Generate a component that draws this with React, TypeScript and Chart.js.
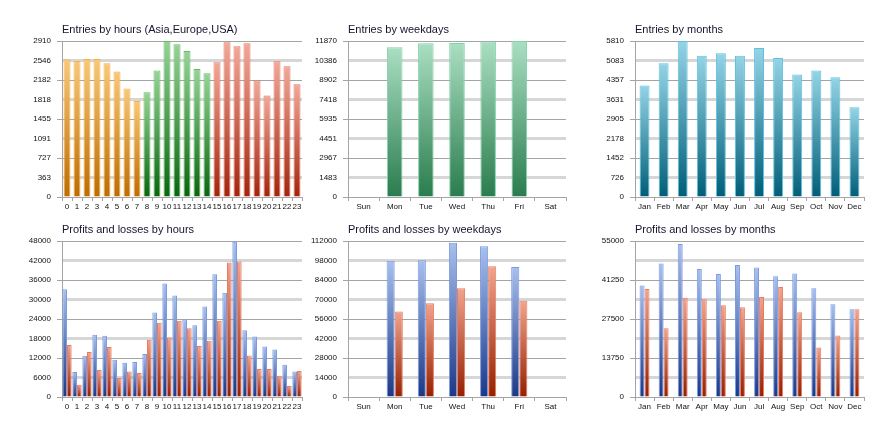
import React, { useEffect, useRef } from 'react';
import { Chart, registerables } from 'chart.js';

Chart.register(...registerables);

// ---- categories ----
const hourLabels = ['0', '1', '2', '3', '4', '5', '6', '7', '8', '9', '10', '11', '12', '13', '14', '15', '16', '17', '18', '19', '20', '21', '22', '23'];
const hourRegions = ['Asia', 'Asia', 'Asia', 'Asia', 'Asia', 'Asia', 'Asia', 'Asia', 'Europe', 'Europe', 'Europe', 'Europe', 'Europe', 'Europe', 'Europe', 'USA', 'USA', 'USA', 'USA', 'USA', 'USA', 'USA', 'USA', 'USA'];
const weekdayLabels = ['Sun', 'Mon', 'Tue', 'Wed', 'Thu', 'Fri', 'Sat'];
const monthLabels = ['Jan', 'Feb', 'Mar', 'Apr', 'May', 'Jun', 'Jul', 'Aug', 'Sep', 'Oct', 'Nov', 'Dec'];

// ---- entries ----
const hourEntries = [2569, 2538, 2575, 2575, 2494, 2339, 2023, 1793, 1955, 2358, 2910, 2848, 2724, 2389, 2308, 2513, 2885, 2811, 2867, 2172, 1893, 2532, 2439, 2103];
const weekdayEntries = [null, 11390, 11693, 11719, 11830, 11870, null];
const monthEntries = [4150, 4980, 5810, 5265, 5352, 5265, 5550, 5178, 4559, 4707, 4460, 3345];

// ---- profits and losses ----
const hourProfits = [33160, 7680, 12690, 19140, 18830, 11460, 10540, 10750, 13200, 26000, 34900, 31220, 23850, 22110, 27840, 37770, 32040, 47800, 20570, 18630, 15560, 14640, 9930, 7880];
const hourLosses = [15970, 3790, 13820, 8290, 15350, 5830, 7880, 7370, 17600, 22820, 18320, 23440, 21190, 15660, 17300, 23440, 41350, 41660, 12790, 8600, 8600, 6550, 3380, 7980];
const weekdayProfits = [null, 97910, 98150, 110810, 108180, 93370, null];
const weekdayLosses = [null, 61380, 67340, 78090, 93850, 69020, null];
const monthProfits = [39290, 47030, 53950, 45150, 43390, 46560, 45620, 42570, 43510, 38350, 32720, 30960];
const monthLosses = [38110, 24280, 34950, 34480, 32370, 31660, 35300, 38820, 29900, 17470, 21700, 30960];

// ---- axis ranges for the money charts ----
const hourMoneyMax = 48000;
const weekdayMoneyMax = 112000;
const monthMoneyMax = 55000;

// ---- styling ----
const FONT = 'Liberation Sans, Arial, sans-serif';
const AXIS = '#a4a4a4';
const GRID_DARK = '#a4a4a4';
const GRID_LIGHT = '#d6d6d6';
const TEXT = '#111111';
const TITLE = '#14142e';

type Shade = { top: string; bottom: string; border: string };
const regionShades: Record<string, Shade> = {
  Asia: { top: '#f8c878', bottom: '#bd6c00', border: '#f4b24c' },
  Europe: { top: '#96d496', bottom: '#08660e', border: '#66ba66' },
  USA: { top: '#f2a898', bottom: '#a2240c', border: '#e47462' },
};
const weekdayShade: Shade = { top: '#aadfc2', bottom: '#2a7c4e', border: '#82d2a8' };
const monthShade: Shade = { top: '#94d4e6', bottom: '#005e78', border: '#5cc2e0' };
const profitShade: Shade = { top: '#a8c0ee', bottom: '#1a3886', border: '#7a9ae2' };
const lossShade: Shade = { top: '#f2a48c', bottom: '#952000', border: '#ea7a62' };

// vertical gradient spanning each bar from its top to the zero line
const barGradient = (pick: (i: number) => Shade) => (c: any) => {
  const shade = pick(c.dataIndex ?? 0);
  const chart = c.chart;
  if (!chart.chartArea || c.type !== 'data') return shade.bottom;
  const v = c.raw;
  if (v == null) return shade.bottom;
  const y = chart.scales.y;
  const y0 = y.getPixelForValue(0);
  const y1 = y.getPixelForValue(v);
  if (!isFinite(y1) || Math.abs(y0 - y1) < 1) return shade.bottom;
  const g = chart.ctx.createLinearGradient(0, y1, 0, y0);
  g.addColorStop(0, shade.top);
  g.addColorStop(1, shade.bottom);
  return g;
};

const panelTitle = {
  id: 'panelTitle',
  afterDraw(chart: any, _args: any, opts: any) {
    const { ctx, chartArea } = chart;
    ctx.save();
    ctx.font = `11px ${FONT}`;
    ctx.fillStyle = TITLE;
    ctx.textAlign = 'left';
    ctx.textBaseline = 'middle';
    ctx.fillText(opts.text, chartArea.left, chartArea.top - 11);
    ctx.restore();
  },
};

type Box = { x: number; y: number; w: number; h: number };
type Plot = { l: number; r: number; t: number; b: number };

type Spec = {
  title: string;
  labels: string[];
  datasets: any[];
  max: number;
  sparseLabels?: boolean;
};

function buildConfig(spec: Spec, box: Box, plot: Plot): any {
  const tickFont = { family: FONT, size: 8 };
  return {
    type: 'bar',
    data: { labels: spec.labels, datasets: spec.datasets },
    plugins: [panelTitle],
    options: {
      responsive: false,
      animation: false,
      devicePixelRatio: 1,
      layout: {
        padding: { left: 0, right: box.x + box.w - plot.r, top: plot.t - box.y, bottom: 0 },
      },
      plugins: {
        legend: { display: false },
        tooltip: { enabled: false },
        title: { display: false },
        panelTitle: { text: spec.title },
      },
      scales: {
        x: {
          grid: { display: true, drawOnChartArea: false, offset: true, tickLength: 4, color: AXIS },
          border: { display: true, color: AXIS },
          ticks: { font: tickFont, color: TEXT, padding: 1, autoSkip: false, maxRotation: 0, minRotation: 0 },
          afterFit: (s: any) => {
            s.height = box.y + box.h - plot.b;
          },
        },
        y: {
          min: 0,
          max: spec.max,
          grid: {
            color: (c: any) => (c.index % 2 ? GRID_LIGHT : GRID_DARK),
            lineWidth: (c: any) => (c.index % 2 ? 3 : 1),
            tickColor: (c: any) => (c.index % 2 ? 'rgba(0,0,0,0)' : GRID_DARK),
            tickLength: 5,
          },
          border: { display: true, color: AXIS },
          ticks: {
            stepSize: spec.max / 8,
            font: tickFont,
            color: TEXT,
            padding: 6,
            callback: (v: any, i: number) => (spec.sparseLabels && i % 2 ? '' : String(Math.floor(Number(v)))),
          },
          afterFit: (s: any) => {
            s.width = plot.l - box.x;
          },
        },
      },
    },
  };
}

function Panel({ box, plot, spec }: { box: Box; plot: Plot; spec: Spec }) {
  const ref = useRef<HTMLCanvasElement>(null);
  useEffect(() => {
    const chart = new Chart(ref.current as HTMLCanvasElement, buildConfig(spec, box, plot));
    return () => chart.destroy();
  }, []);
  return (
    <canvas
      ref={ref}
      width={box.w}
      height={box.h}
      style={{ position: 'absolute', left: box.x, top: box.y, width: box.w, height: box.h, display: 'block' }}
    />
  );
}

const single = (data: any[], pick: (i: number) => Shade, barPercentage: number) => ({
  data,
  backgroundColor: barGradient(pick),
  borderColor: (c: any) => pick(c.dataIndex ?? 0).border,
  borderWidth: 1,
  borderSkipped: 'start',
  categoryPercentage: 1,
  barPercentage,
});

const pair = (profits: any[], losses: any[], categoryPercentage: number) => [
  {
    data: profits,
    backgroundColor: barGradient(() => profitShade),
    borderColor: profitShade.border,
    borderWidth: 1,
    borderSkipped: 'start',
    categoryPercentage,
    barPercentage: 1,
  },
  {
    data: losses,
    backgroundColor: barGradient(() => lossShade),
    borderColor: lossShade.border,
    borderWidth: 1,
    borderSkipped: 'start',
    categoryPercentage,
    barPercentage: 1,
  },
];

const maxOf = (arr: any[]) => Math.max(...arr.filter((v) => v != null));

const panels: { box: Box; plot: Plot; spec: Spec }[] = [
  {
    box: { x: 0, y: 0, w: 310, h: 215 },
    plot: { l: 62, r: 302, t: 41, b: 197 },
    spec: {
      title: 'Entries by hours (Asia,Europe,USA)',
      labels: hourLabels,
      datasets: [single(hourEntries, (i) => regionShades[hourRegions[i]], 0.7)],
      max: maxOf(hourEntries),
    },
  },
  {
    box: { x: 310, y: 0, w: 280, h: 215 },
    plot: { l: 348, r: 566, t: 41, b: 197 },
    spec: {
      title: 'Entries by weekdays',
      labels: weekdayLabels,
      datasets: [single(weekdayEntries, () => weekdayShade, 0.5)],
      max: maxOf(weekdayEntries),
    },
  },
  {
    box: { x: 590, y: 0, w: 304, h: 215 },
    plot: { l: 635, r: 864, t: 41, b: 197 },
    spec: {
      title: 'Entries by months',
      labels: monthLabels,
      datasets: [single(monthEntries, () => monthShade, 0.52)],
      max: maxOf(monthEntries),
    },
  },
  {
    box: { x: 0, y: 215, w: 310, h: 210 },
    plot: { l: 62, r: 302, t: 241, b: 397 },
    spec: {
      title: 'Profits and losses by hours',
      labels: hourLabels,
      datasets: pair(hourProfits, hourLosses, 0.93),
      max: hourMoneyMax,
    },
  },
  {
    box: { x: 310, y: 215, w: 280, h: 210 },
    plot: { l: 348, r: 566, t: 241, b: 397 },
    spec: {
      title: 'Profits and losses by weekdays',
      labels: weekdayLabels,
      datasets: pair(weekdayProfits, weekdayLosses, 0.52),
      max: weekdayMoneyMax,
    },
  },
  {
    box: { x: 590, y: 215, w: 304, h: 210 },
    plot: { l: 635, r: 864, t: 241, b: 397 },
    spec: {
      title: 'Profits and losses by months',
      labels: monthLabels,
      datasets: pair(monthProfits, monthLosses, 0.52),
      max: monthMoneyMax,
      sparseLabels: true,
    },
  },
];

export default function App() {
  return (
    <div style={{ position: 'absolute', left: 0, top: 0, width: 894, height: 425, background: '#ffffff' }}>
      {panels.map((p, i) => (
        <Panel key={i} box={p.box} plot={p.plot} spec={p.spec} />
      ))}
    </div>
  );
}
